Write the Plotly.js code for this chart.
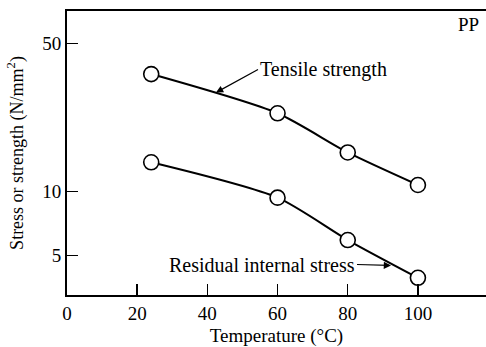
<!DOCTYPE html>
<html>
<head>
<meta charset="utf-8">
<script src="https://cdn.plot.ly/plotly-3.0.1.min.js"></script>
<style>html,body{margin:0;padding:0;background:#fff;}#chart{width:486px;height:347px;}</style>
</head>
<body>
<div id="chart"></div>
<script>
const temperature = [24, 60, 80, 100];
const tensileStrength = [35.8, 23.4, 15.3, 10.75];
const residualStress = [13.75, 9.37, 5.92, 3.93];
const xTickVals = [0, 20, 40, 60, 80, 100];
const yTickVals = [5, 10, 50];
const yTickText = ['5', '10', '50'];

const FONT = 'Liberation Serif, Times New Roman, serif';

function series(y) {
  return {
    x: temperature, y: y, type: 'scatter', mode: 'lines+markers',
    line: {color: '#000', width: 2, shape: 'spline', smoothing: 0.7},
    marker: {symbol: 'circle', size: 15, color: '#fff', line: {color: '#000', width: 1.6}},
    showlegend: false, hoverinfo: 'skip', cliponaxis: false
  };
}

const data = [series(tensileStrength), series(residualStress)];

// helpers to convert reference pixel positions into paper fractions
const PL = 67, PW = 419, PB = 295, PH = 284;
const px = v => (v - PL) / PW;
const py = v => (PB - v) / PH;

const layout = {
  width: 486, height: 347,
  margin: {l: 67, r: 0, t: 11, b: 52},
  paper_bgcolor: '#fff', plot_bgcolor: '#fff',
  font: {family: FONT, color: '#000', size: 18},
  xaxis: {
    range: [0, 119.4], tickvals: xTickVals, ticks: 'inside', ticklen: 11, tickwidth: 1.5,
    tickcolor: '#000', showline: true, linecolor: '#000', linewidth: 2, mirror: true,
    showgrid: false, zeroline: false, tickfont: {size: 19},
    title: {text: 'Temperature (°C)', font: {size: 19}, standoff: 9}
  },
  yaxis: {
    type: 'log', range: [0.5133, 1.851], tickvals: yTickVals, ticktext: yTickText,
    ticks: 'inside', ticklen: 11, tickwidth: 1.5, tickcolor: '#000',
    showline: true, linecolor: '#000', linewidth: 2, mirror: false,
    showgrid: false, zeroline: false, tickfont: {size: 19},
    title: {text: 'Stress or strength (N/mm<sup>2</sup>)', font: {size: 18}, standoff: 14}
  },
  annotations: [
    {text: 'PP', xref: 'paper', yref: 'paper', x: 1, y: 1, xanchor: 'right', yanchor: 'top',
     xshift: -5, yshift: -1, showarrow: false, font: {size: 19}},
    {text: 'Tensile strength', xref: 'paper', yref: 'paper', axref: 'paper', ayref: 'paper',
     x: px(216), y: py(92.5), ax: px(258), ay: py(69.5), xanchor: 'left', yanchor: 'middle',
     showarrow: true, arrowhead: 2, arrowsize: 1.2, arrowwidth: 1.2, arrowcolor: '#000',
     font: {size: 20}},
    {text: 'Residual internal stress', xref: 'paper', yref: 'paper', axref: 'paper', ayref: 'paper',
     x: px(391), y: py(265.5), ax: px(357), ay: py(264.5), xanchor: 'right', yanchor: 'middle',
     showarrow: true, arrowhead: 2, arrowsize: 1.2, arrowwidth: 1.2, arrowcolor: '#000',
     font: {size: 20}}
  ]
};

Plotly.newPlot('chart', data, layout, {staticPlot: true, displayModeBar: false});
</script>
</body>
</html>
